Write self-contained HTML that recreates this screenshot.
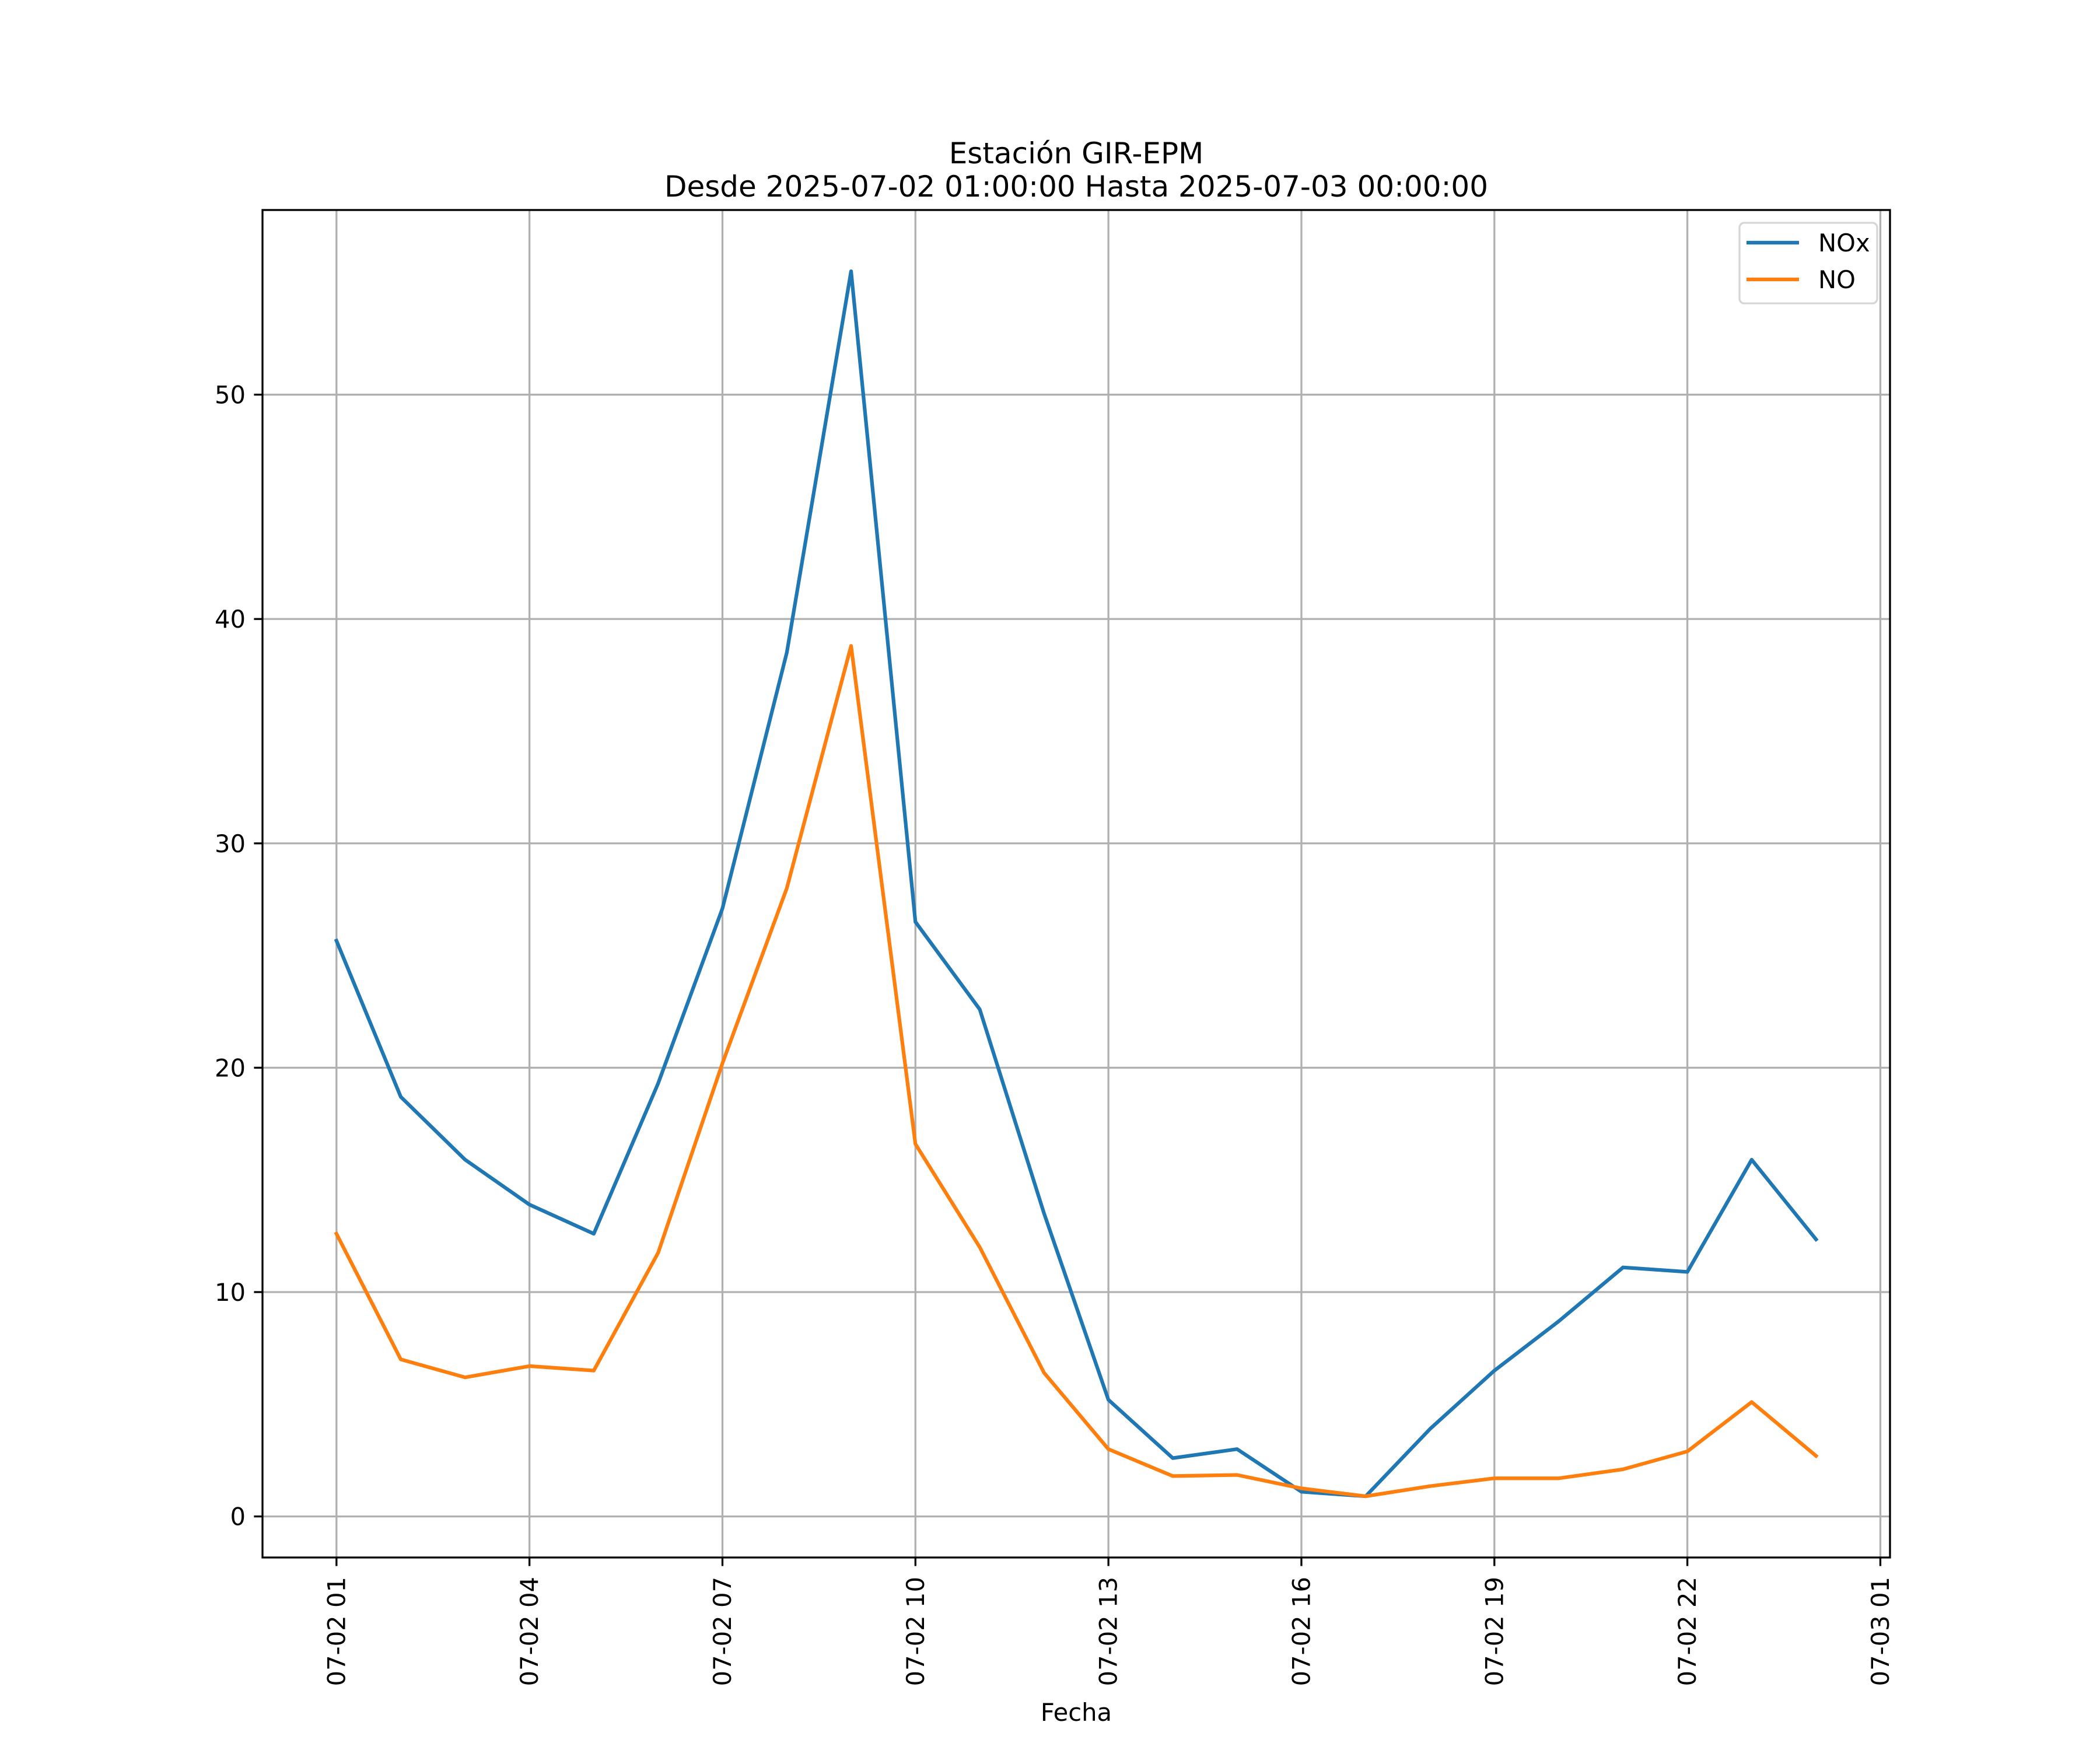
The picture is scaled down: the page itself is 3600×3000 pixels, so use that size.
<!DOCTYPE html>
<html><head><meta charset="utf-8"><style>
html,body{margin:0;padding:0;background:#fff;}
svg{display:block;font-family:"DejaVu Sans","Liberation Sans",sans-serif;}
</style></head><body>
<svg id="chart" width="3600" height="3000" viewBox="0 0 3600 3000" xmlns="http://www.w3.org/2000/svg">
<rect width="3600" height="3000" fill="#fff"/>
<text x="1845" y="280" font-size="50" text-anchor="middle">Estación GIR-EPM</text>
<text x="1845" y="337" font-size="50" text-anchor="middle">Desde 2025-07-02 01:00:00 Hasta 2025-07-03 00:00:00</text>
<g id="grid"></g>
<g id="series"></g>
<rect x="450" y="360" width="2790" height="2310" fill="none" stroke="#000" stroke-width="3.3"/>
<g id="ticks"></g>
<text x="1845" y="2950" font-size="41.7" text-anchor="middle">Fecha</text>
<g>
<rect x="2982" y="382" width="236" height="138" rx="8" fill="#fff" fill-opacity="0.8" stroke="#d6d6d6" stroke-width="3.3"/>
<line x1="2994" y1="416" x2="3084" y2="416" stroke="#1f77b4" stroke-width="6.25"/>
<text x="3117" y="431" font-size="41.7">NOx</text>
<line x1="2994" y1="479" x2="3084" y2="479" stroke="#ff7f0e" stroke-width="6.25"/>
<text x="3117" y="494" font-size="41.7">NO</text>
</g>
</svg>
<script>
const hours = [0,1,2,3,4,5,6,7,8,9,10,11,12,13,14,15,16,17,18,19,20,21,22,23];
const noxValues = [25.66,18.7,15.9,13.9,12.6,19.3,27.1,38.5,55.5,26.5,22.6,13.5,5.2,2.6,3.0,1.1,0.9,3.9,6.5,8.7,11.1,10.9,15.9,12.35];
const noValues = [12.6,7.0,6.2,6.7,6.5,11.75,20.2,28.0,38.8,16.6,12.0,6.4,3.0,1.8,1.85,1.25,0.9,1.35,1.7,1.7,2.1,2.9,5.1,2.7];
const xTickHours = [0,3,6,9,12,15,18,21,24];
const xTickLabels = ["07-02 01","07-02 04","07-02 07","07-02 10","07-02 13","07-02 16","07-02 19","07-02 22","07-03 01"];
const yTicks = [0,10,20,30,40,50];

const NS="http://www.w3.org/2000/svg";
const L=450,R=3240,T=360,B=2670;
const allV=noxValues.concat(noValues);
const vmin=Math.min(...allV), vmax=Math.max(...allV), vr=vmax-vmin;
const y0=vmin-0.05*vr, y1=vmax+0.05*vr;
const hmin=Math.min(...hours), hmax=Math.max(...hours), hr=hmax-hmin;
const x0=hmin-0.05*hr, x1=hmax+0.05*hr;
const sx=h=>L+(h-x0)/(x1-x0)*(R-L);
const sy=v=>B-(v-y0)/(y1-y0)*(B-T);
function mk(tag,attrs,parent){const e=document.createElementNS(NS,tag);for(const k in attrs)e.setAttribute(k,attrs[k]);parent.appendChild(e);return e;}
const grid=document.getElementById('grid'),ticks=document.getElementById('ticks'),series=document.getElementById('series');
xTickHours.forEach((h,i)=>{
  const x=sx(h);
  const g=mk('line',{x1:x,y1:T,x2:x,y2:B,stroke:'#b0b0b0','stroke-width':3.3},grid);
  
  
  const t=mk('line',{x1:x,y1:B,x2:x,y2:B+14.6,stroke:'#000','stroke-width':3.3},ticks);
  
  
  const lb=mk('text',{x:x,y:2703,'font-size':41.7,'text-anchor':'end','dominant-baseline':'central',transform:`rotate(-90 ${x} 2703)`},ticks);
  lb.textContent=xTickLabels[i];
  
  
});
yTicks.forEach(v=>{
  const y=sy(v);
  const g=mk('line',{x1:L,y1:y,x2:R,y2:y,stroke:'#b0b0b0','stroke-width':3.3},grid);
  
  
  const t=mk('line',{x1:L-14.6,y1:y,x2:L,y2:y,stroke:'#000','stroke-width':3.3},ticks);
  
  
  const lb=mk('text',{x:421,y:y+15,'font-size':41.7,'text-anchor':'end'},ticks);
  lb.textContent=String(v);
  
  
});
function drawLine(vals,color,name){
  const d=vals.map((v,i)=>(i?'L':'M')+sx(hours[i]).toFixed(1)+' '+sy(v).toFixed(1)).join(' ');
  const p=mk('path',{d:d,fill:'none',stroke:color,'stroke-width':6.25,'stroke-linejoin':'round','stroke-linecap':'square'},series);
  
  
}
drawLine(noxValues,'#1f77b4','nox-line');
drawLine(noValues,'#ff7f0e','no-line');
</script>
</body></html>
